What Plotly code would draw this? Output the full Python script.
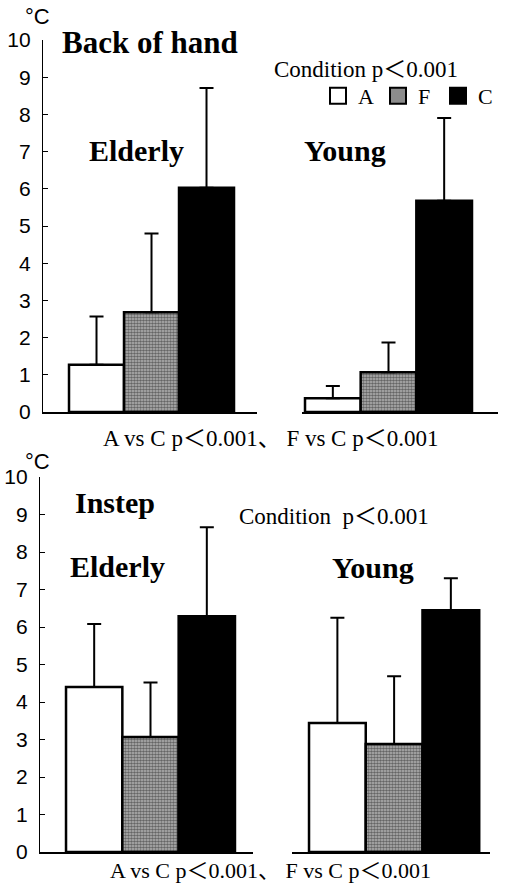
import plotly.graph_objects as go

W, H = 505, 885

conditions = ["A", "F", "C"]
hand_elderly = [1.27, 2.68, 6.03]
hand_elderly_sd = [1.30, 2.12, 2.68]
hand_young = [0.37, 1.07, 5.68]
hand_young_sd = [0.33, 0.80, 2.22]
instep_elderly = [4.40, 3.07, 6.29]
instep_elderly_sd = [1.68, 1.45, 2.37]
instep_young = [3.44, 2.88, 6.45]
instep_young_sd = [2.81, 1.81, 0.85]
y_ticks = list(range(0, 11))

SERIF = "Liberation Serif, Times New Roman, Noto Sans CJK JP, serif"
SANS = "Liberation Sans, Arial, sans-serif"

fills = {"A": "white", "F": "#8c8c8c", "C": "black"}
patterns = {"A": "", "F": ".", "C": ""}

fig = go.Figure()

groups = [
    (hand_elderly, hand_elderly_sd, "x", "y"),
    (hand_young, hand_young_sd, "x2", "y"),
    (instep_elderly, instep_elderly_sd, "x3", "y2"),
    (instep_young, instep_young_sd, "x4", "y2"),
]

for vals, sds, xa, ya in groups:
    for i, c in enumerate(conditions):
        fig.add_trace(go.Bar(
            x=[c], y=[vals[i]], xaxis=xa, yaxis=ya, width=1.0,
            showlegend=False,
            marker=dict(
                color=fills[c],
                line=dict(color="black", width=2.5),
                pattern=dict(shape=patterns[c], fgcolor="#111111",
                             bgcolor="#b8b8b8", size=3, solidity=0.6),
            ),
            error_y=dict(type="data", array=[sds[i]], arrayminus=[0],
                         symmetric=False, color="black", thickness=2, width=7),
        ))

# legend entries
for c in conditions:
    fig.add_trace(go.Scatter(
        x=[None], y=[None], mode="markers", name=c, xaxis="x", yaxis="y",
        marker=dict(symbol="square", size=16, color=fills[c],
                    line=dict(color="black", width=2)),
    ))

def px(v):
    return v / W

def py(v):
    return 1 - v / H

xcommon = dict(type="category", categoryorder="array", categoryarray=conditions,
               showline=True, linecolor="black", linewidth=1.5,
               ticks="inside", ticklen=6, tickcolor="black", tickwidth=1.5,
               showticklabels=False, showgrid=False, zeroline=False,
               automargin=False)

def xaxis(d0, d1, r0, r1, anchor):
    d = dict(xcommon)
    d.update(domain=[px(d0), px(d1)], range=[r0, r1], anchor=anchor,
             tickmode="array", tickvals=[r1 - 0.001])
    return d

ycommon = dict(range=[0, 10], tickmode="array", tickvals=y_ticks,
               ticktext=[str(t) for t in y_ticks],
               showline=True, linecolor="black", linewidth=1.2,
               ticks="inside", ticklen=5, tickcolor="black", tickwidth=1,
               tickfont=dict(family=SANS, size=21, color="black"),
               ticklabelstandoff=7, automargin=False,
               showgrid=False, zeroline=False)

ya1 = dict(ycommon); ya1.update(domain=[py(412), py(40)], anchor="x")
ya2 = dict(ycommon); ya2.update(domain=[py(852), py(477)], anchor="x3")

fig.update_layout(
    width=W, height=H,
    margin=dict(l=0, r=0, t=0, b=0, autoexpand=False),
    paper_bgcolor="white", plot_bgcolor="rgba(0,0,0,0)",
    barmode="overlay",
    xaxis=xaxis(43, 257, -0.973, 2.918, "y"),
    xaxis2=xaxis(302, 498, -0.554, 2.967, "y"),
    xaxis3=xaxis(40, 253, -0.962, 2.82, "y2"),
    xaxis4=xaxis(292, 490, -0.80, 2.69, "y2"),
    yaxis=ya1,
    yaxis2=ya2,
    showlegend=True,
    legend=dict(orientation="h", x=px(318), y=py(75), xanchor="left", yanchor="top",
                font=dict(family=SERIF, size=22, color="black"),
                bgcolor="rgba(0,0,0,0)", itemclick=False, tracegroupgap=0,
                entrywidth=15, entrywidthmode="pixels"),
)

def ann(text, x, y, size, bold=False, family=SERIF):
    fig.add_annotation(
        text=f"<b>{text}</b>" if bold else text,
        x=px(x), y=py(y), xref="paper", yref="paper",
        xanchor="center", yanchor="middle", showarrow=False,
        font=dict(family=family, size=size, color="black"))

ann("°C", 37, 16, 22, family=SANS)
ann("Back of hand", 150, 42, 31, bold=True)
ann("Condition p＜0.001", 366, 69, 23)
ann("Elderly", 136, 150, 30, bold=True)
ann("Young", 345, 150, 30, bold=True)
ann("A vs C p＜0.001、 F vs C p＜0.001", 270, 438, 23)

ann("°C", 37, 461, 22, family=SANS)
ann("Instep", 115, 502, 30, bold=True)
ann("Condition  p＜0.001", 334, 516, 23)
ann("Elderly", 117, 566, 30, bold=True)
ann("Young", 373, 567, 30, bold=True)
ann("A vs C p＜0.001、 F vs C p＜0.001", 270, 870, 22)

fig.write_html("out.html", config={"displayModeBar": False},
               post_script="document.body.style.margin='0';document.body.style.overflow='hidden';")
